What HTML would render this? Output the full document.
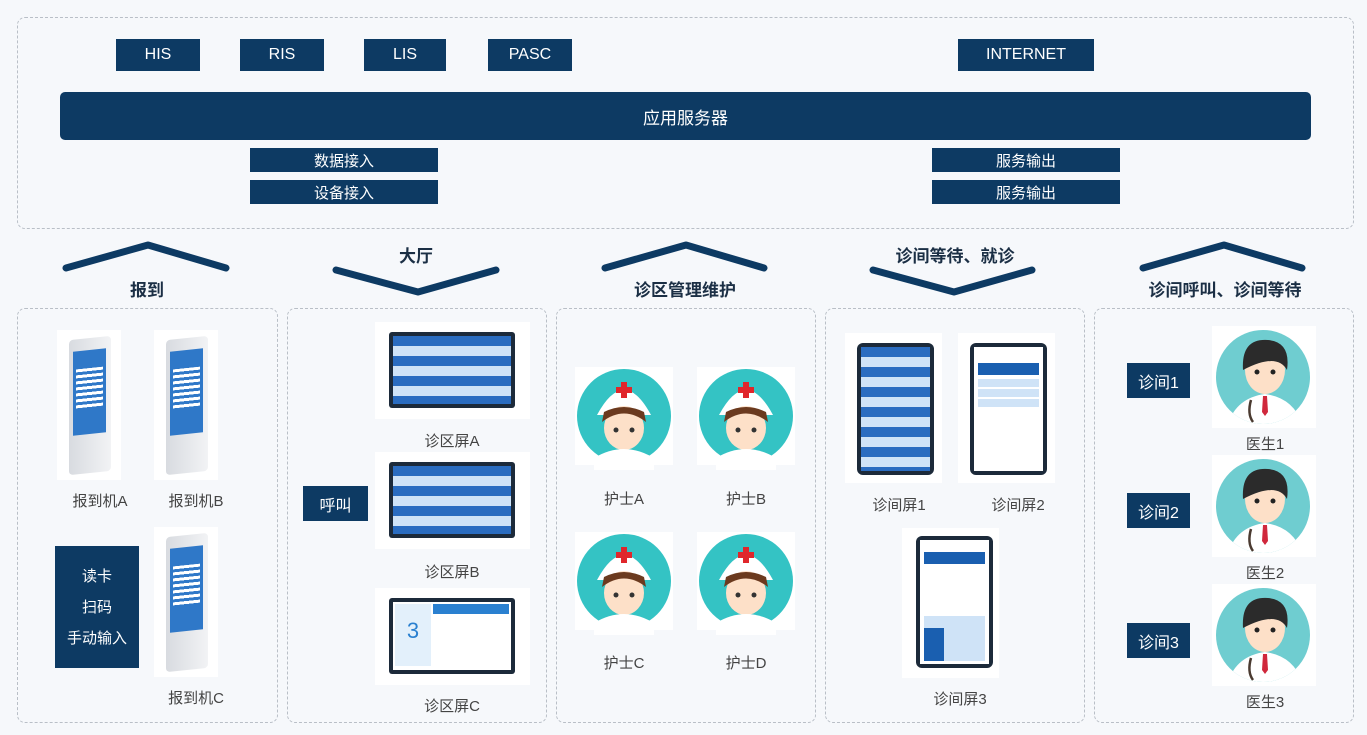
<!DOCTYPE html>
<html><head><meta charset="utf-8"><style>
*{margin:0;padding:0;box-sizing:border-box}
body{width:1367px;height:735px;background:#f6f8fb;position:relative;overflow:hidden;font-family:"Liberation Sans","Noto Sans CJK SC",sans-serif}
.a{position:absolute}
.nb{position:absolute;background:#0d3a63;color:#fff;display:flex;align-items:center;justify-content:center;font-size:16px;text-align:center}
.dash{position:absolute;border:1px dashed #b9bfc7;border-radius:8px}
.lbl{position:absolute;color:#444;font-size:15px;text-align:center}
.ttl{position:absolute;color:#1b2f45;font-size:17px;font-weight:bold;text-align:center}
.kiosk{position:absolute;width:64px;height:150px;background:#fff}
.kiosk .b{position:absolute;left:12px;top:8px;width:42px;height:135px;background:linear-gradient(90deg,#d8dbe0,#f2f3f5);border-radius:4px;transform:skewY(-6deg)}
.kiosk .s{position:absolute;left:16px;top:20px;width:33px;height:84px;background:#2f78c8;transform:skewY(-6deg)}
.kiosk .s i{position:absolute;left:3px;top:18px;width:27px;height:40px;background:repeating-linear-gradient(#fff 0 3px,#2f78c8 3px 6px)}
.scr{position:absolute;background:#fff}
.scr .m{position:absolute;background:#1c2a3a;border-radius:3px}
.scr .m i{position:absolute;left:4px;top:4px;right:4px;bottom:4px;background:repeating-linear-gradient(#2a6cc0 0 10px,#cfe3f7 10px 20px)}
.card{position:absolute;background:#fff}
.circ{position:absolute;border-radius:50%;background:#34c3c4;overflow:hidden}
</style></head><body>

<div class="dash" style="left:17px;top:17px;width:1337px;height:212px"></div>
<div class="nb" style="left:116px;top:39px;width:84px;height:32px">HIS</div>
<div class="nb" style="left:240px;top:39px;width:84px;height:32px">RIS</div>
<div class="nb" style="left:364px;top:39px;width:82px;height:32px">LIS</div>
<div class="nb" style="left:488px;top:39px;width:84px;height:32px">PASC</div>
<div class="nb" style="left:958px;top:39px;width:136px;height:32px">INTERNET</div>
<div class="nb" style="left:60px;top:92px;width:1251px;height:48px;border-radius:5px;font-size:17px">应用服务器</div>
<div class="nb" style="left:250px;top:148px;width:188px;height:24px;font-size:15px">数据接入</div>
<div class="nb" style="left:250px;top:180px;width:188px;height:24px;font-size:15px">设备接入</div>
<div class="nb" style="left:932px;top:148px;width:188px;height:24px;font-size:15px">服务输出</div>
<div class="nb" style="left:932px;top:180px;width:188px;height:24px;font-size:15px">服务输出</div>

<svg class="a" style="left:0;top:0" width="1367" height="310">
<g fill="none" stroke="#0d3a63" stroke-width="7" stroke-linecap="round" stroke-linejoin="round">
<polyline points="66,268 148,245 226,268"/>
<polyline points="336,270 418,292 496,270"/>
<polyline points="605,268 686,245 764,268"/>
<polyline points="873,270 954,292 1032,270"/>
<polyline points="1143,268 1224,245 1302,268"/>
</g></svg>
<div class="ttl" style="left:97px;top:276px;width:100px">报到</div>
<div class="ttl" style="left:366px;top:242px;width:100px">大厅</div>
<div class="ttl" style="left:610px;top:276px;width:150px">诊区管理维护</div>
<div class="ttl" style="left:870px;top:242px;width:170px">诊间等待、就诊</div>
<div class="ttl" style="left:1130px;top:276px;width:190px">诊间呼叫、诊间等待</div>

<div class="dash" style="left:17px;top:308px;width:261px;height:415px"></div>
<div class="dash" style="left:287px;top:308px;width:260px;height:415px"></div>
<div class="dash" style="left:556px;top:308px;width:260px;height:415px"></div>
<div class="dash" style="left:825px;top:308px;width:260px;height:415px"></div>
<div class="dash" style="left:1094px;top:308px;width:260px;height:415px"></div>

<!-- panel 1 -->
<div class="kiosk" style="left:57px;top:330px"><div class="b"></div><div class="s"><i></i></div></div>
<div class="kiosk" style="left:154px;top:330px"><div class="b"></div><div class="s"><i></i></div></div>
<div class="kiosk" style="left:154px;top:527px"><div class="b"></div><div class="s"><i></i></div></div>
<div class="lbl" style="left:50px;top:490px;width:100px">报到机A</div>
<div class="lbl" style="left:146px;top:490px;width:100px">报到机B</div>
<div class="lbl" style="left:146px;top:687px;width:100px">报到机C</div>
<div class="nb" style="left:55px;top:546px;width:84px;height:122px;font-size:15px;line-height:31px">读卡<br>扫码<br>手动输入</div>

<!-- panel 2 -->
<div class="scr" style="left:375px;top:322px;width:155px;height:97px"><div class="m" style="left:14px;top:10px;width:126px;height:76px"><i></i></div></div>
<div class="scr" style="left:375px;top:452px;width:155px;height:97px"><div class="m" style="left:14px;top:10px;width:126px;height:76px"><i></i></div></div>
<div class="scr" style="left:375px;top:588px;width:155px;height:97px"><div class="m" style="left:14px;top:10px;width:126px;height:76px"><i style="background:#fff"></i><div class="a" style="left:6px;top:6px;width:36px;height:62px;background:#e3f0fb;color:#2a80d0;font-size:22px;text-align:center;padding-top:14px">3</div><div class="a" style="left:44px;top:6px;width:76px;height:10px;background:#2a80d0"></div></div></div>
<div class="lbl" style="left:402px;top:430px;width:100px">诊区屏A</div>
<div class="lbl" style="left:402px;top:561px;width:100px">诊区屏B</div>
<div class="lbl" style="left:402px;top:695px;width:100px">诊区屏C</div>
<div class="nb" style="left:303px;top:486px;width:65px;height:35px">呼叫</div>

<!-- panel 3 nurses -->
<div class="card" style="left:575px;top:367px;width:98px;height:98px"><div class="circ" style="left:2px;top:2px;width:94px;height:94px"></div></div>
<div class="card" style="left:697px;top:367px;width:98px;height:98px"><div class="circ" style="left:2px;top:2px;width:94px;height:94px"></div></div>
<div class="card" style="left:575px;top:532px;width:98px;height:98px"><div class="circ" style="left:2px;top:2px;width:94px;height:94px"></div></div>
<div class="card" style="left:697px;top:532px;width:98px;height:98px"><div class="circ" style="left:2px;top:2px;width:94px;height:94px"></div></div>
<div class="card" style="left:1212px;top:326px;width:104px;height:102px"><div class="circ" style="left:4px;top:4px;width:94px;height:94px;background:#6fcdd0"></div></div>
<div class="card" style="left:1212px;top:455px;width:104px;height:102px"><div class="circ" style="left:4px;top:4px;width:94px;height:94px;background:#6fcdd0"></div></div>
<div class="card" style="left:1212px;top:584px;width:104px;height:102px"><div class="circ" style="left:4px;top:4px;width:94px;height:94px;background:#6fcdd0"></div></div>
<svg class="a" style="left:0;top:0" width="1367" height="735">
<defs><g id="n">
<path d="M-27,5 Q0,-45 27,5 Z" fill="#fff"/>
<rect x="-3" y="-28" width="6" height="16" fill="#e0262b"/><rect x="-8" y="-23" width="16" height="6" fill="#e0262b"/>
<ellipse cx="0" cy="18" rx="20" ry="22" fill="#fde0c8"/>
<path d="M-22,12 Q0,-5 22,12 L20,2 Q0,-8 -20,2Z" fill="#6b3a1f"/>
<path d="M-30,48 Q0,30 30,48 L30,60 L-30,60Z" fill="#fff"/>
<circle cx="-8" cy="20" r="2.5" fill="#333"/><circle cx="8" cy="20" r="2.5" fill="#333"/>
</g>
<g id="dd"><ellipse cx="0" cy="-2" rx="20" ry="24" fill="#fde0c8"/><path d="M-22,-2 Q-24,-34 3,-32 Q26,-30 22,-2 Q12,-20 -22,-2Z" fill="#2b2b2b"/><path d="M-38,55 Q-30,26 0,22 Q30,26 38,55 L38,70 L-38,70Z" fill="#fff"/><path d="M-2,24 L2,24 L3,40 L0,44 L-3,40Z" fill="#d0283c"/><path d="M-14,28 Q-18,42 -12,50" stroke="#4a3a30" stroke-width="2.5" fill="none"/><circle cx="-8" cy="0" r="2.5" fill="#222"/><circle cx="8" cy="0" r="2.5" fill="#222"/></g>
<clipPath id="c1"><circle cx="1263" cy="377" r="47"/></clipPath><clipPath id="c2"><circle cx="1263" cy="506" r="47"/></clipPath><clipPath id="c3"><circle cx="1263" cy="635" r="47"/></clipPath>
</defs>
<use href="#n" x="624" y="410"/><use href="#n" x="746" y="410"/><use href="#n" x="624" y="575"/><use href="#n" x="746" y="575"/>
<g clip-path="url(#c1)"><use href="#dd" x="1265" y="372"/></g>
<g clip-path="url(#c2)"><use href="#dd" x="1265" y="501"/></g>
<g clip-path="url(#c3)"><use href="#dd" x="1265" y="630"/></g>
</svg>
<div class="lbl" style="left:574px;top:488px;width:100px">护士A</div>
<div class="lbl" style="left:696px;top:488px;width:100px">护士B</div>
<div class="lbl" style="left:574px;top:652px;width:100px">护士C</div>
<div class="lbl" style="left:696px;top:652px;width:100px">护士D</div>

<!-- panel 4 -->
<div class="scr" style="left:845px;top:333px;width:97px;height:150px"><div class="m" style="left:12px;top:10px;width:77px;height:132px;border-radius:6px"><i></i></div></div>
<div class="scr" style="left:958px;top:333px;width:97px;height:150px"><div class="m" style="left:12px;top:10px;width:77px;height:132px;border-radius:6px"><i style="background:#fff"></i><div class="a" style="left:8px;top:20px;width:61px;height:12px;background:#1a5fb0"></div><div class="a" style="left:8px;top:36px;width:61px;height:30px;background:repeating-linear-gradient(#cfe3f7 0 8px,#fff 8px 10px)"></div></div></div>
<div class="scr" style="left:902px;top:528px;width:97px;height:150px"><div class="m" style="left:14px;top:8px;width:77px;height:132px;border-radius:6px"><i style="background:#fff"></i><div class="a" style="left:8px;top:16px;width:61px;height:12px;background:#1a5fb0"></div><div class="a" style="left:8px;top:80px;width:61px;height:45px;background:#cfe3f7"></div><div class="a" style="left:8px;top:92px;width:20px;height:33px;background:#1a5fb0"></div></div></div>
<div class="lbl" style="left:849px;top:494px;width:100px">诊间屏1</div>
<div class="lbl" style="left:968px;top:494px;width:100px">诊间屏2</div>
<div class="lbl" style="left:910px;top:688px;width:100px">诊间屏3</div>

<!-- panel 5 -->
<div class="nb" style="left:1127px;top:363px;width:63px;height:35px">诊间1</div>
<div class="nb" style="left:1127px;top:493px;width:63px;height:35px">诊间2</div>
<div class="nb" style="left:1127px;top:623px;width:63px;height:35px">诊间3</div>
<div class="lbl" style="left:1215px;top:433px;width:100px">医生1</div>
<div class="lbl" style="left:1215px;top:562px;width:100px">医生2</div>
<div class="lbl" style="left:1215px;top:691px;width:100px">医生3</div>
</body></html>
